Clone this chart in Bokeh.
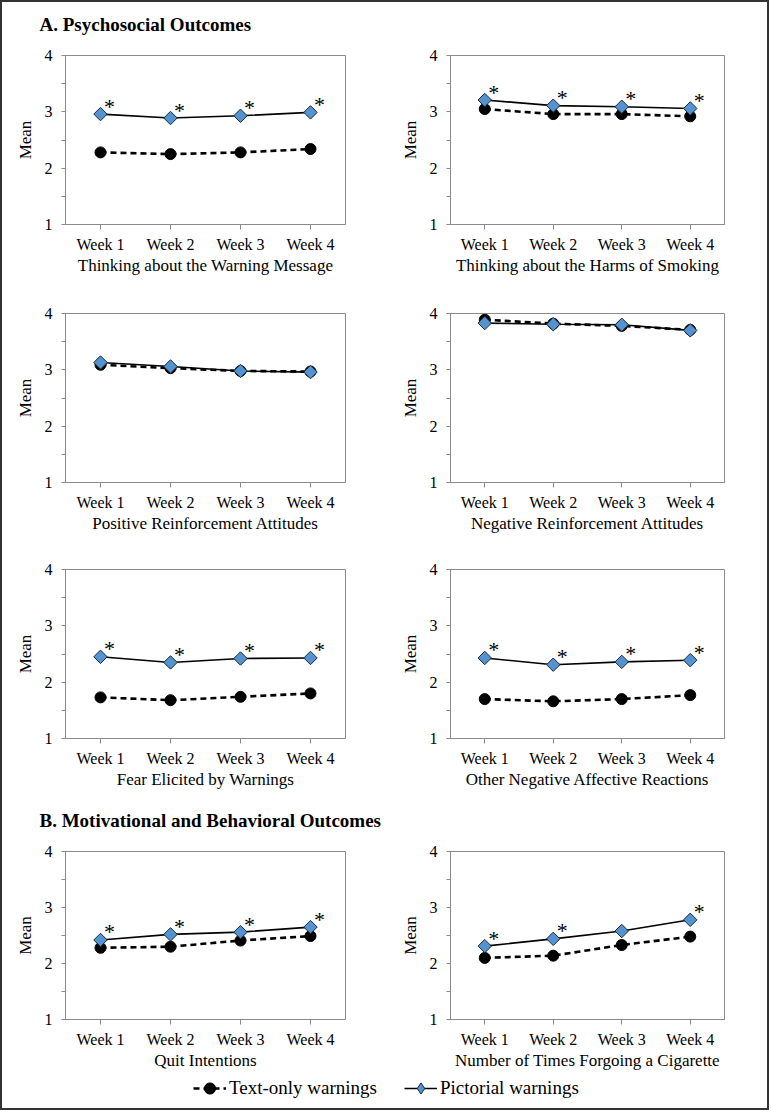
import numpy as np
from bokeh.plotting import figure
from bokeh.models import Range1d, FactorRange, FixedTicker, Legend, LegendItem, Title
from bokeh.layouts import column, row
from bokeh.embed import file_html
from bokeh.resources import INLINE
from bokeh.core.properties import value

# ---------------- data ----------------
weeks = ["Week 1", "Week 2", "Week 3", "Week 4"]
y_major = [1, 2, 3, 4]
y_minor = [1.5, 2.5, 3.5]

section_a = "A. Psychosocial Outcomes"
section_b = "B. Motivational and Behavioral Outcomes"
legend_text_only = "Text-only warnings"
legend_pictorial = "Pictorial warnings"

label_1 = "Thinking about the Warning Message"
text_only_1 = [2.28, 2.25, 2.28, 2.34]
pictorial_1 = [2.96, 2.89, 2.93, 2.99]
stars_1 = [1, 1, 1, 1]

label_2 = "Thinking about the Harms of Smoking"
text_only_2 = [3.05, 2.96, 2.96, 2.92]
pictorial_2 = [3.21, 3.11, 3.09, 3.06]
stars_2 = [1, 1, 1, 1]

label_3 = "Positive Reinforcement Attitudes"
text_only_3 = [3.09, 3.03, 2.98, 2.97]
pictorial_3 = [3.13, 3.06, 2.98, 2.96]
stars_3 = [0, 0, 0, 0]

label_4 = "Negative Reinforcement Attitudes"
text_only_4 = [3.89, 3.82, 3.78, 3.71]
pictorial_4 = [3.83, 3.81, 3.80, 3.70]
stars_4 = [0, 0, 0, 0]

label_5 = "Fear Elicited by Warnings"
text_only_5 = [1.73, 1.68, 1.74, 1.80]
pictorial_5 = [2.45, 2.35, 2.42, 2.43]
stars_5 = [1, 1, 1, 1]

label_6 = "Other Negative Affective Reactions"
text_only_6 = [1.70, 1.66, 1.70, 1.77]
pictorial_6 = [2.43, 2.31, 2.36, 2.39]
stars_6 = [1, 1, 1, 1]

label_7 = "Quit Intentions"
text_only_7 = [2.28, 2.30, 2.41, 2.49]
pictorial_7 = [2.42, 2.52, 2.56, 2.65]
stars_7 = [1, 1, 1, 1]

label_8 = "Number of Times Forgoing a Cigarette"
text_only_8 = [2.10, 2.14, 2.33, 2.48]
pictorial_8 = [2.31, 2.44, 2.58, 2.78]
stars_8 = [1, 1, 0, 1]

# ---------------- style ----------------
FONT = "Liberation Serif"
BLUE = "#5593D0"
GRAY = "#8a8a8a"
FRAME_H = 169


def style_text_only(p, x, y):
    l = p.line(x, y, line_color="black", line_width=2.6, line_dash="6 4")
    s = p.scatter(x, y, marker="circle", size=11, fill_color="black", line_color="black")
    return l, s


def style_pictorial(p, x, y, marker="square", angle=np.pi / 4):
    l = p.line(x, y, line_color="black", line_width=1.6)
    s = p.scatter(x, y, marker=marker, angle=angle, size=9.5,
                  fill_color=BLUE, line_color="#1b2a3a", line_width=1)
    return l, s


def make_panel(label, text_vals, pict_vals, stars, side, top, bottom, title=None):
    if side == "left":
        w, bl, br = 388, 63, 45
    else:
        w, bl, br = 377, 60, 43
    h = top + FRAME_H + bottom
    p = figure(width=w, height=h,
               x_range=FactorRange(*weeks, range_padding=0),
               y_range=Range1d(1, 4),
               output_backend="svg", toolbar_location=None,
               min_border_left=bl, min_border_right=br,
               min_border_top=top, min_border_bottom=bottom)
    p.xgrid.visible = False
    p.ygrid.visible = False
    p.outline_line_color = GRAY
    p.outline_line_width = 1
    p.background_fill_color = "white"
    p.border_fill_color = "white"

    style_text_only(p, weeks, text_vals)
    style_pictorial(p, weeks, pict_vals)

    sx = [wk for wk, s in zip(weeks, stars) if s]
    sy = [v for v, s in zip(pict_vals, stars) if s]
    if sx:
        p.text(sx, sy, text=value("*"), x_offset=9, y_offset=-8,
               text_font=value(FONT), text_font_size="22px",
               text_align="center", text_baseline="alphabetic",
               text_color="black")

    for ax in (p.xaxis[0], p.yaxis[0]):
        ax.axis_line_color = GRAY
        ax.major_tick_line_color = GRAY
        ax.minor_tick_line_color = GRAY
        ax.major_tick_in = 0
        ax.major_label_text_font = FONT
        ax.major_label_text_font_size = "16px"
        ax.major_label_text_color = "black"
        ax.axis_label_text_font = FONT
        ax.axis_label_text_font_size = "17px"
        ax.axis_label_text_font_style = "normal"
        ax.axis_label_text_color = "black"

    xa = p.xaxis[0]
    xa.axis_label = label
    xa.major_tick_out = 5
    xa.major_label_standoff = 6
    xa.axis_label_standoff = 0

    ya = p.yaxis[0]
    ya.axis_label = "Mean"
    ya.ticker = FixedTicker(ticks=y_major, minor_ticks=y_minor)
    ya.major_tick_out = 4
    ya.minor_tick_in = 0
    ya.minor_tick_out = 4
    ya.major_label_standoff = 9
    ya.axis_label_standoff = 7

    if title:
        # spacer between frame and section heading
        p.add_layout(Title(text=" ", text_font_size="1px", standoff=14), "above")
        p.title.text = title
        p.title.text_font = FONT
        p.title.text_font_size = "19px"
        p.title.text_font_style = "bold"
        p.title.text_color = "black"
        p.title.align = "left"
        p.title.offset = -26
        p.title.standoff = 8
    return p


f1 = make_panel(label_1, text_only_1, pictorial_1, stars_1, "left", 53, 60, section_a)
f2 = make_panel(label_2, text_only_2, pictorial_2, stars_2, "right", 53, 60)
f3 = make_panel(label_3, text_only_3, pictorial_3, stars_3, "left", 29, 60)
f4 = make_panel(label_4, text_only_4, pictorial_4, stars_4, "right", 29, 60)
f5 = make_panel(label_5, text_only_5, pictorial_5, stars_5, "left", 27, 60)
f6 = make_panel(label_6, text_only_6, pictorial_6, stars_6, "right", 27, 60)
f7 = make_panel(label_7, text_only_7, pictorial_7, stars_7, "left", 53, 52, section_b)
f8 = make_panel(label_8, text_only_8, pictorial_8, stars_8, "right", 53, 52)

# legend strip (proxy glyphs sit outside the visible range; only the key is shown)
lg = figure(width=765, height=36, x_range=Range1d(0, 1), y_range=Range1d(0, 1),
            x_axis_type=None, y_axis_type=None, output_backend="svg",
            toolbar_location=None, min_border=0)
lg.xgrid.visible = False
lg.ygrid.visible = False
lg.outline_line_color = None
proxy_x = [-3.0, -2.0]
proxy_y = [-3.0, -2.0]
t_r = style_text_only(lg, proxy_x, proxy_y)
p_r = style_pictorial(lg, proxy_x, proxy_y, marker="diamond", angle=0)
legend = Legend(items=[LegendItem(label=legend_text_only, renderers=list(t_r)),
                       LegendItem(label=legend_pictorial, renderers=list(p_r))],
                location=(191, 6), orientation="horizontal",
                border_line_color=None, background_fill_alpha=0,
                padding=0, margin=0, spacing=27, glyph_width=33, glyph_height=28,
                label_standoff=3, label_text_font=FONT, label_text_font_size="19px",
                label_text_color="black")
lg.add_layout(legend)

page = column(row(f1, f2), row(f3, f4), row(f5, f6), row(f7, f8), lg,
              styles={"border": "2px solid #333333"})

open("out.html", "w").write(file_html(page, INLINE))
